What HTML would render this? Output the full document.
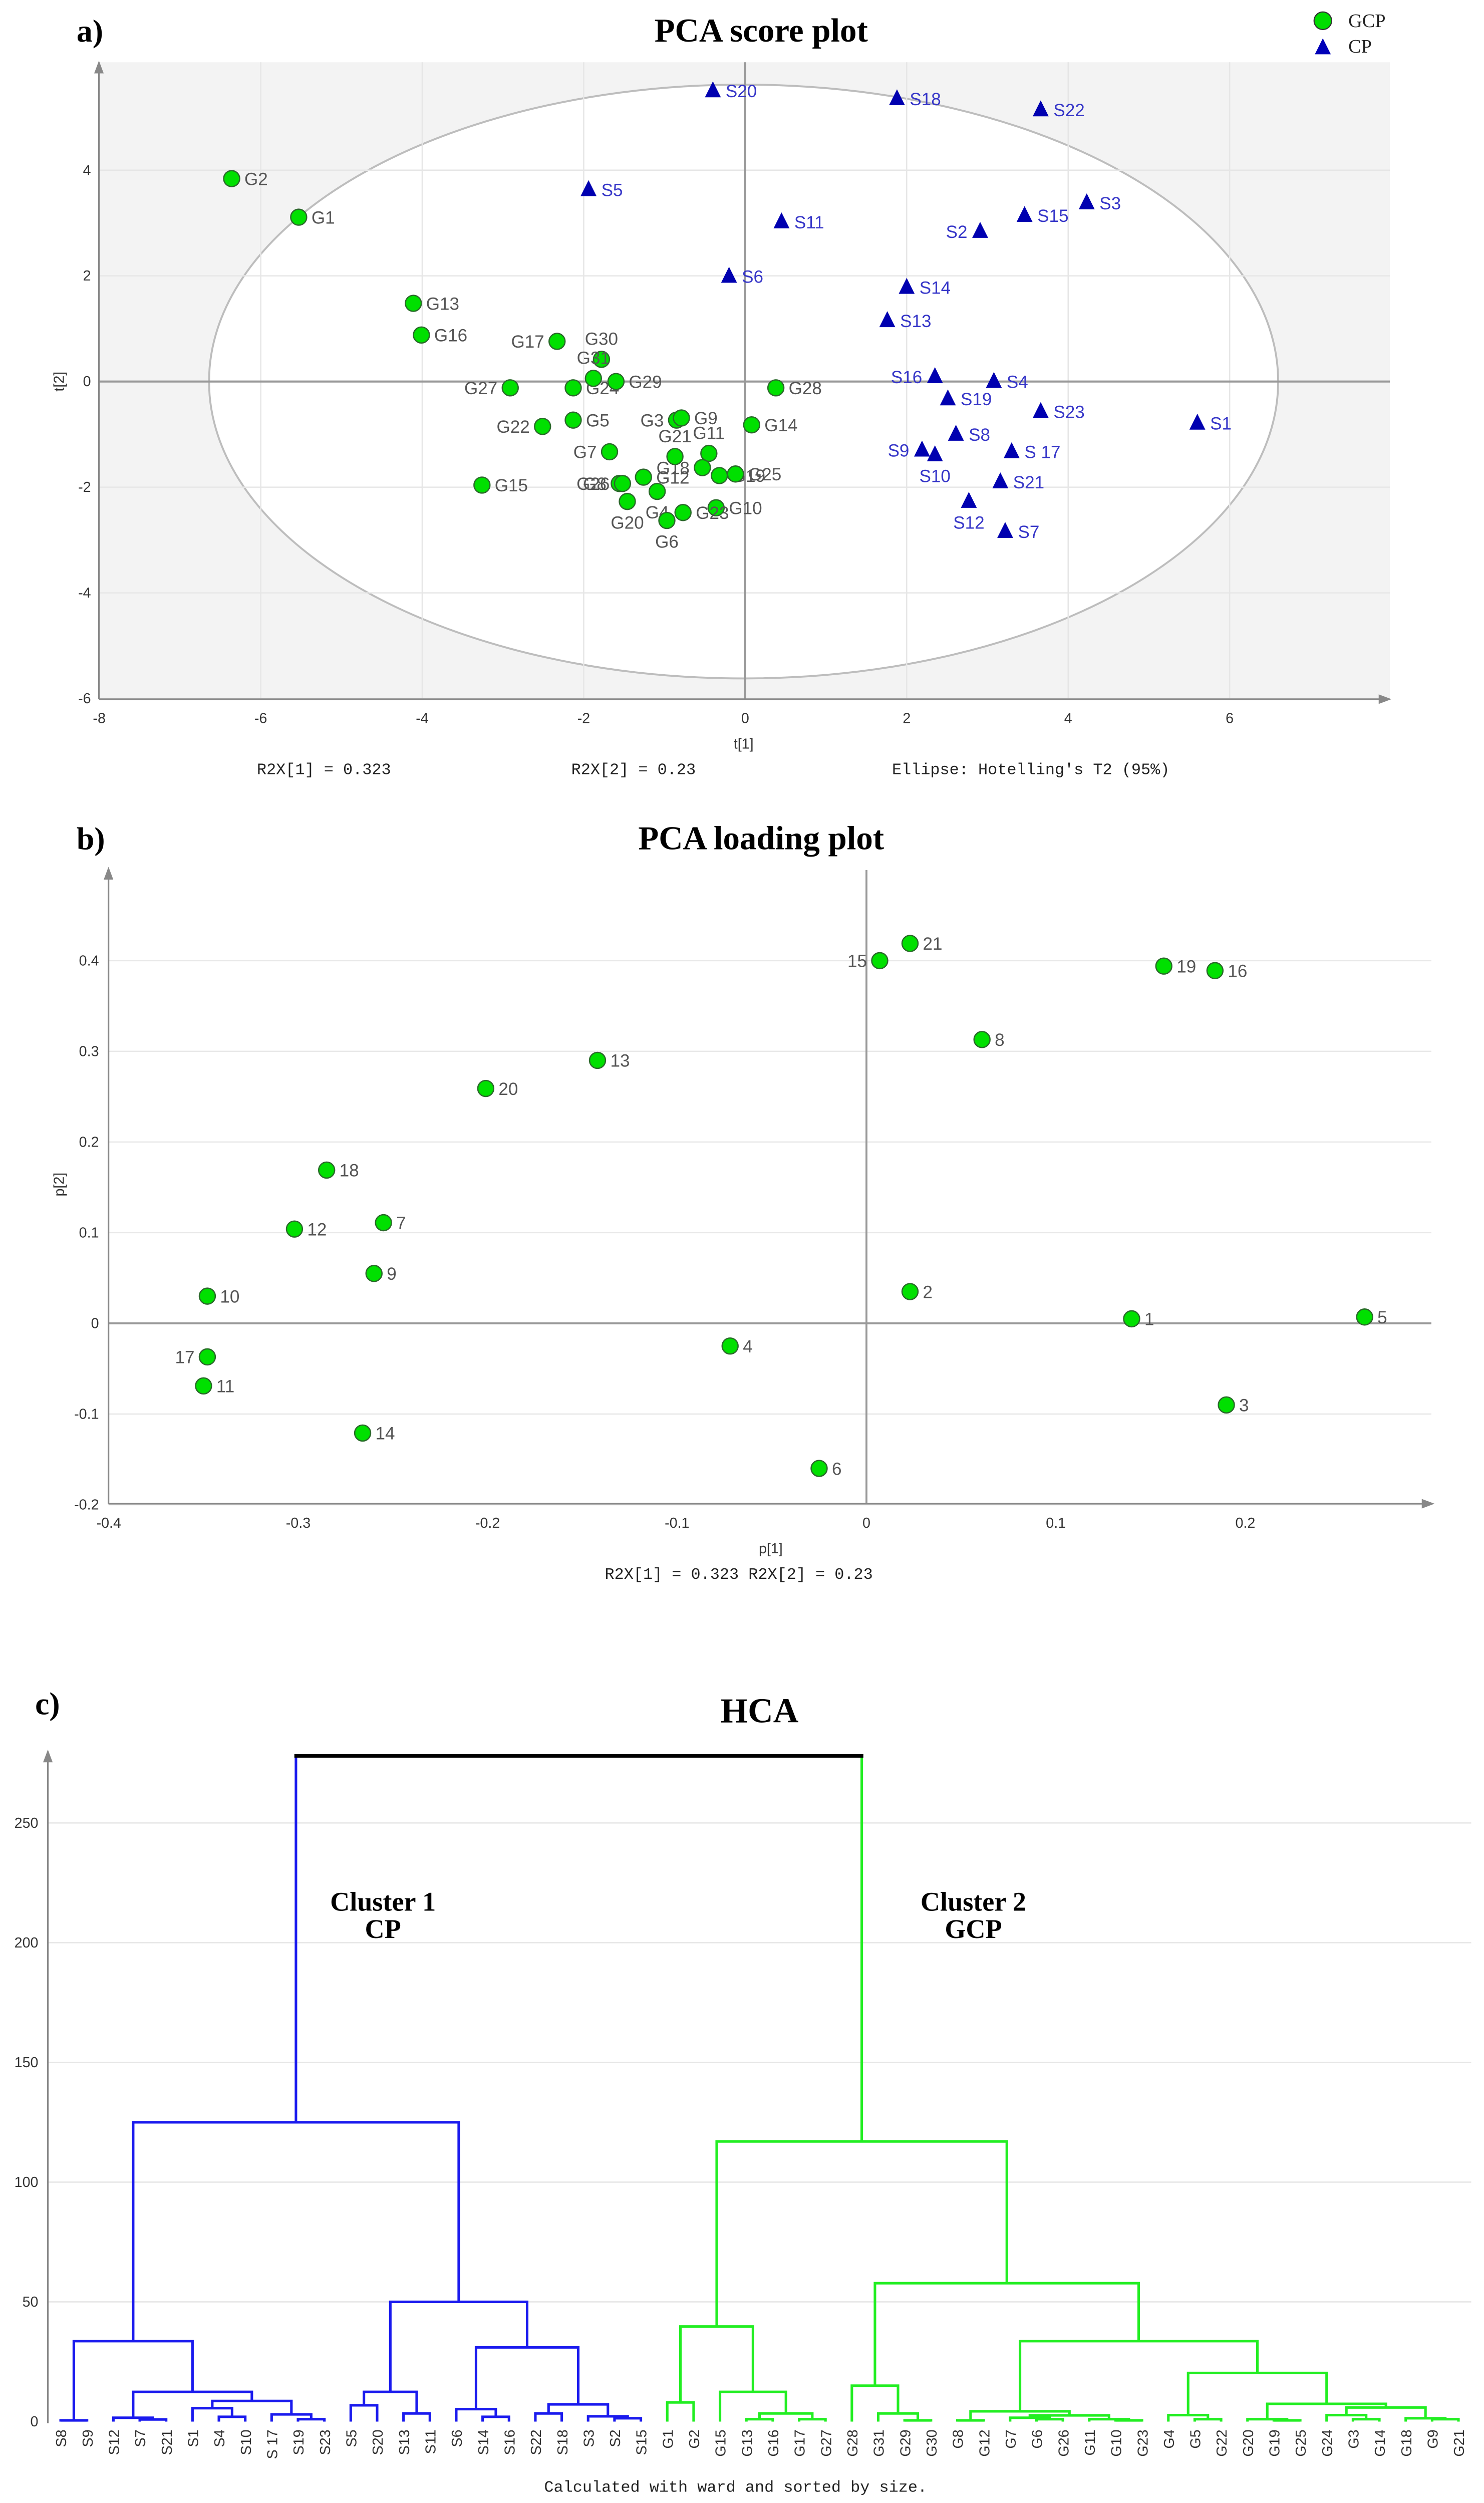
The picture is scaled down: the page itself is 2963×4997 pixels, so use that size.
<!DOCTYPE html>
<html><head><meta charset="utf-8"><style>
html,body{margin:0;padding:0;background:#fff}
svg{display:block}
.tk{font-family:"Liberation Sans",sans-serif;font-size:9px;fill:#333}
.ser{font-family:"Liberation Serif",serif;font-weight:bold;fill:#000}
.mono{font-family:"Liberation Mono",monospace;font-size:10px;fill:#222}
.gl{font-family:"Liberation Sans",sans-serif;font-size:11px;fill:#555}
.sl{font-family:"Liberation Sans",sans-serif;font-size:11px;fill:#3636c8}
</style></head><body>
<svg id="root" width="2963" height="4997" viewBox="0 0 930 1568" preserveAspectRatio="none" xmlns="http://www.w3.org/2000/svg">
<defs><marker id="arr" markerWidth="8" markerHeight="8" refX="4" refY="4" orient="auto"><path d="M0,1 L8,4 L0,7 z" fill="#888"/></marker></defs>
<g id="pa"></g>
<g id="pb"></g>
<g id="pc"></g>
</svg>
<script>
// ---------- Score plot data ----------
const gNames=["G1","G2","G3","G4","G5","G6","G7","G8","G9","G10","G11","G12","G13","G14","G15","G16","G17","G18","G19","G20","G21","G22","G23","G24","G25","G26","G27","G28","G29","G30","G31"];
const gT1=[-5.53,-6.36,-0.85,-1.09,-2.13,-0.97,-1.68,-1.56,-0.79,-0.36,-0.45,-1.26,-4.11,0.08,-3.26,-4.01,-2.33,-0.53,-0.32,-1.46,-0.87,-2.51,-0.77,-2.13,-0.12,-1.52,-2.91,0.38,-1.60,-1.78,-1.88];
const gT2=[3.11,3.84,-0.73,-2.08,-0.73,-2.63,-1.33,-1.93,-0.69,-2.39,-1.36,-1.81,1.48,-0.82,-1.96,0.88,0.76,-1.63,-1.78,-2.27,-1.42,-0.85,-2.48,-0.12,-1.75,-1.93,-0.12,-0.12,0.0,0.42,0.06];
const gPos=["r","r","l","b","r","b","l","l","r","r","a","r","r","r","r","r","l","l","r","b","a","l","r","r","r","l","l","r","r","a","a"];
const sNames=["S1","S2","S3","S4","S5","S6","S7","S8","S9","S10","S11","S12","S13","S14","S15","S16","S 17","S18","S19","S20","S21","S22","S23"];
const sT1=[5.60,2.91,4.23,3.08,-1.94,-0.20,3.22,2.61,2.19,2.35,0.45,2.77,1.76,2.00,3.46,2.35,3.30,1.88,2.51,-0.40,3.16,3.66,3.66];
const sT2=[-0.79,2.84,3.38,0.0,3.63,1.99,-2.84,-1.00,-1.30,-1.39,3.02,-2.27,1.15,1.78,3.14,0.09,-1.33,5.35,-0.33,5.50,-1.90,5.14,-0.57];
const sPos=["r","l","r","r","r","r","r","r","l","b","r","b","r","r","r","l","r","r","r","r","r","r","r"];
const aXTicks=[-8,-6,-4,-2,0,2,4,6];
const aYTicks=[-6,-4,-2,0,2,4];
// ---------- Loading plot data ----------
const lNames=["1","2","3","4","5","6","7","8","9","10","11","12","13","14","15","16","17","18","19","20","21"];
const lP1=[0.140,0.023,0.190,-0.072,0.263,-0.025,-0.255,0.061,-0.260,-0.348,-0.350,-0.302,-0.142,-0.266,0.007,0.184,-0.348,-0.285,0.157,-0.201,0.023];
const lP2=[0.005,0.035,-0.090,-0.025,0.007,-0.160,0.111,0.313,0.055,0.030,-0.069,0.104,0.290,-0.121,0.400,0.389,-0.037,0.169,0.394,0.259,0.419];
const lPos=["r","r","r","r","r","r","r","r","r","r","r","r","r","r","l","r","l","r","r","r","r"];
const bXTicks=[-0.4,-0.3,-0.2,-0.1,0,0.1,0.2];
const bYTicks=[-0.2,-0.1,0,0.1,0.2,0.3,0.4];
// ---------- HCA data ----------
const leaves=["S8","S9","S12","S7","S21","S1","S4","S10","S 17","S19","S23","S5","S20","S13","S11","S6","S14","S16","S22","S18","S3","S2","S15","G1","G2","G15","G13","G16","G17","G27","G28","G31","G29","G30","G8","G12","G7","G6","G26","G11","G10","G23","G4","G5","G22","G20","G19","G25","G24","G3","G14","G18","G9","G21"];
// merges: [a, b, height]; a/b are leaf names or "#index"
const mergeA=["S8","S7","S12","S4","S1","S19","S 17","#4","#2","#0","S5","S13","#10","S14","S6","S2","S3","S22","#17","#14","#12","#9",
"G1","G13","G17","#23","G15","#22","G29","G31","G28","G6","G7","G10","G11","#32","G8","#36","G5","G4","G19","G20","G3","G24","G9","G18","#43","#41","#39","#37","#30","#27","#21"];
const mergeB=["S9","S21","#1","S10","#3","S23","#5","#6","#7","#8","S20","S11","#11","S16","#13","S15","#15","S18","#16","#18","#19","#20",
"G2","G16","G27","#24","#25","#26","G30","#28","#29","G26","#31","G23","#33","#34","G12","#35","G22","#38","G25","#40","G14","#42","G21","#44","#45","#46","#47","#48","#49","#50","#51"];
const mergeH=[0.5,0.9,1.6,2.0,5.6,1.0,3.0,8.6,12.4,33.6,6.8,3.4,12.4,2.0,5.2,1.4,2.2,3.4,7.2,31,50,125,
8,1,1,3.4,12.4,39.7,0.5,3.4,15,1.0,1.6,0.5,1.0,2.6,0.5,4.3,1.0,2.7,0.5,1.0,1.0,2.7,1.0,1.4,5.9,7.4,20.3,33.6,57.8,117,278];
const cYTicks=[0,50,100,150,200,250];

const NS="http://www.w3.org/2000/svg";
function mk(parent,tag,attrs,text){const e=document.createElementNS(NS,tag);for(const k in attrs)e.setAttribute(k,attrs[k]);if(text!==undefined)e.textContent=text;parent.appendChild(e);return e;}

// ===== Plot a =====
(function(){
const g=document.getElementById('pa');
const X=v=>467+v*50.6, Y=v=>239-v*33.1;
let t=mk(g,'text',{x:48,y:26,class:'ser','font-size':20},'a)');


t=mk(g,'text',{x:477,y:26,class:'ser','font-size':21,'text-anchor':'middle'},'PCA score plot');


const lg=mk(g,'g',{});


let e=mk(lg,'circle',{cx:829,cy:13,r:5.5,fill:'#00dd00',stroke:'#333','stroke-width':0.7});


e=mk(lg,'text',{x:845,y:17,'font-family':'Liberation Serif,serif','font-size':12,fill:'#222'},'GCP');


e=mk(lg,'path',{d:'M824,34 L829,24 L834,34 Z',fill:'#0000b8'});


e=mk(lg,'text',{x:845,y:33,'font-family':'Liberation Serif,serif','font-size':12,fill:'#222'},'CP');


e=mk(g,'rect',{x:62,y:39,width:809,height:399,fill:'#f3f3f3'});


e=mk(g,'ellipse',{cx:466,cy:239,rx:335,ry:186,fill:'#fff',stroke:'#bdbdbd','stroke-width':1.2});


aYTicks.forEach(v=>{const l=mk(g,'line',{x1:62,x2:871,y1:Y(v),y2:Y(v),stroke:'#e6e6e6','stroke-width':0.8});});
aXTicks.forEach(v=>{const l=mk(g,'line',{y1:39,y2:438,x1:X(v),x2:X(v),stroke:'#e6e6e6','stroke-width':0.8});});
e=mk(g,'line',{x1:62,x2:871,y1:Y(0),y2:Y(0),stroke:'#999','stroke-width':1.3});


e=mk(g,'line',{x1:X(0),x2:X(0),y1:39,y2:438,stroke:'#999','stroke-width':1.3});


e=mk(g,'line',{x1:62,x2:868,y1:438,y2:438,stroke:'#888','marker-end':'url(#arr)'});


e=mk(g,'line',{x1:62,x2:62,y1:438,y2:42,stroke:'#888','marker-end':'url(#arr)'});


aXTicks.forEach(v=>{const l=mk(g,'text',{x:X(v),y:453,class:'tk','text-anchor':'middle'},String(v));});
aYTicks.forEach(v=>{const l=mk(g,'text',{x:57,y:Y(v)+3,class:'tk','text-anchor':'end'},String(v));});
e=mk(g,'text',{x:466,y:469,class:'tk','text-anchor':'middle'},'t[1]');


e=mk(g,'text',{x:0,y:0,class:'tk','text-anchor':'middle',transform:'translate(40,239) rotate(-90)'},'t[2]');


function lab(x,y,p,txt,cls){let a={x:x+8,y:y+4,class:cls};if(p==='l')a={x:x-8,y:y+4,class:cls,'text-anchor':'end'};if(p==='a')a={x:x,y:y-9,class:cls,'text-anchor':'middle'};if(p==='b')a={x:x,y:y+17,class:cls,'text-anchor':'middle'};return mk(g,'text',a,txt);}
gNames.forEach((n,i)=>{const x=X(gT1[i]),y=Y(gT2[i]);
const c=mk(g,'circle',{cx:x,cy:y,r:5,fill:'#00e000',stroke:'#2a6a2a','stroke-width':0.8});


const l=lab(x,y,gPos[i],n,'gl');

});
sNames.forEach((n,i)=>{const x=X(sT1[i]),y=Y(sT2[i]);
const c=mk(g,'path',{d:`M${x-5},${y+4} L${x},${y-6} L${x+5},${y+4} Z`,fill:'#0000b0'});


const l=lab(x,y,sPos[i],n,'sl');

});
[["R2X[1] = 0.323",203],["R2X[2] = 0.23",397],["Ellipse: Hotelling's T2 (95%)",646]].forEach(a=>{const l=mk(g,'text',{x:a[1],y:485,class:'mono','text-anchor':'middle'},a[0]);});
})();

// ===== Plot b =====
(function(){
const g=document.getElementById('pb');
const X=v=>543+v*1187, Y=v=>829-v*568;
let e=mk(g,'text',{x:48,y:532,class:'ser','font-size':20},'b)');


e=mk(g,'text',{x:477,y:532,class:'ser','font-size':21,'text-anchor':'middle'},'PCA loading plot');


bYTicks.forEach(v=>{const l=mk(g,'line',{x1:68,x2:897,y1:Y(v),y2:Y(v),stroke:'#e8e8e8','stroke-width':0.8});});
e=mk(g,'line',{x1:68,x2:897,y1:Y(0),y2:Y(0),stroke:'#999','stroke-width':1.2});


e=mk(g,'line',{x1:X(0),x2:X(0),y1:545,y2:942,stroke:'#999','stroke-width':1.2});


e=mk(g,'line',{x1:68,x2:895,y1:942,y2:942,stroke:'#888','marker-end':'url(#arr)'});


e=mk(g,'line',{x1:68,x2:68,y1:942,y2:547,stroke:'#888','marker-end':'url(#arr)'});


bXTicks.forEach(v=>{const l=mk(g,'text',{x:X(v),y:957,class:'tk','text-anchor':'middle'},String(v));});
bYTicks.forEach(v=>{const l=mk(g,'text',{x:62,y:Y(v)+3,class:'tk','text-anchor':'end'},String(v));});
e=mk(g,'text',{x:483,y:973,class:'tk','text-anchor':'middle'},'p[1]');


e=mk(g,'text',{x:0,y:0,class:'tk','text-anchor':'middle',transform:'translate(40,742) rotate(-90)'},'p[2]');


lNames.forEach((n,i)=>{const x=X(lP1[i]),y=Y(lP2[i]);
const c=mk(g,'circle',{cx:x,cy:y,r:5,fill:'#00e000',stroke:'#2a6a2a','stroke-width':0.8});


const a=lPos[i]==='l'?{x:x-8,y:y+4,class:'gl','text-anchor':'end'}:{x:x+8,y:y+4,class:'gl'};
const l=mk(g,'text',a,n);

});
e=mk(g,'text',{x:463,y:989,class:'mono','text-anchor':'middle'},'R2X[1] = 0.323 R2X[2] = 0.23');


})();

// ===== HCA =====
(function(){
const g=document.getElementById('pc');
const Y=v=>1517-v*1.5;
const X0=38, dx=(914-38)/(leaves.length-1);
let e=mk(g,'text',{x:22,y:1074,class:'ser','font-size':20},'c)');


e=mk(g,'text',{x:476,y:1079,class:'ser','font-size':22,'text-anchor':'middle'},'HCA');


cYTicks.forEach(v=>{if(v>0){const l=mk(g,'line',{x1:30,x2:922,y1:Y(v),y2:Y(v),stroke:'#e6e6e6','stroke-width':0.8});}
const t=mk(g,'text',{x:24,y:Y(v)+3,class:'tk','text-anchor':'end'},String(v));});
e=mk(g,'line',{x1:30,x2:30,y1:1518,y2:1100,stroke:'#888','marker-end':'url(#arr)'});


const pos={};
leaves.forEach((n,i)=>{pos[n]={x:X0+i*dx,h:0};
const t=mk(g,'text',{x:0,y:0,class:'tk','font-size':10,'text-anchor':'end',transform:`translate(${X0+i*dx+3.5},1522) rotate(-90)`},n);

});
const nodes=[];
const get=k=>k[0]==='#'?nodes[+k.slice(1)]:pos[k];
const last=mergeA.length-1;
mergeA.forEach((a,i)=>{const A=get(a),B=get(mergeB[i]),h=mergeH[i];
if(!A||!B){nodes.push({x:0,h:h});return;}
const isG=(i>21&&i<last);
const col=isG?'#22ee22':'#1a1aee';
if(i===last){
const v1=mk(g,'line',{x1:A.x,x2:A.x,y1:Y(A.h),y2:Y(h),stroke:'#1a1aee','stroke-width':1.6});
const v2=mk(g,'line',{x1:B.x,x2:B.x,y1:Y(B.h),y2:Y(h),stroke:'#22ee22','stroke-width':1.6});
const top=mk(g,'line',{x1:A.x-1,x2:B.x+1,y1:Y(h),y2:Y(h),stroke:'#000','stroke-width':2.2});
}else{
const p=mk(g,'path',{d:`M${A.x},${Y(A.h)} V${Y(h)} H${B.x} V${Y(B.h)}`,fill:'none',stroke:col,'stroke-width':1.6});

}
nodes.push({x:(A.x+B.x)/2,h:h});});
[["Cluster 1",240,1197],["CP",240,1214],["Cluster 2",610,1197],["GCP",610,1214]].forEach(a=>{const t=mk(g,'text',{x:a[1],y:a[2],class:'ser','font-size':17,'text-anchor':'middle'},a[0]);});
e=mk(g,'text',{x:461,y:1561,class:'mono','font-size':11,'text-anchor':'middle'},'Calculated with ward and sorted by size.');


})();
</script>
</body></html>
